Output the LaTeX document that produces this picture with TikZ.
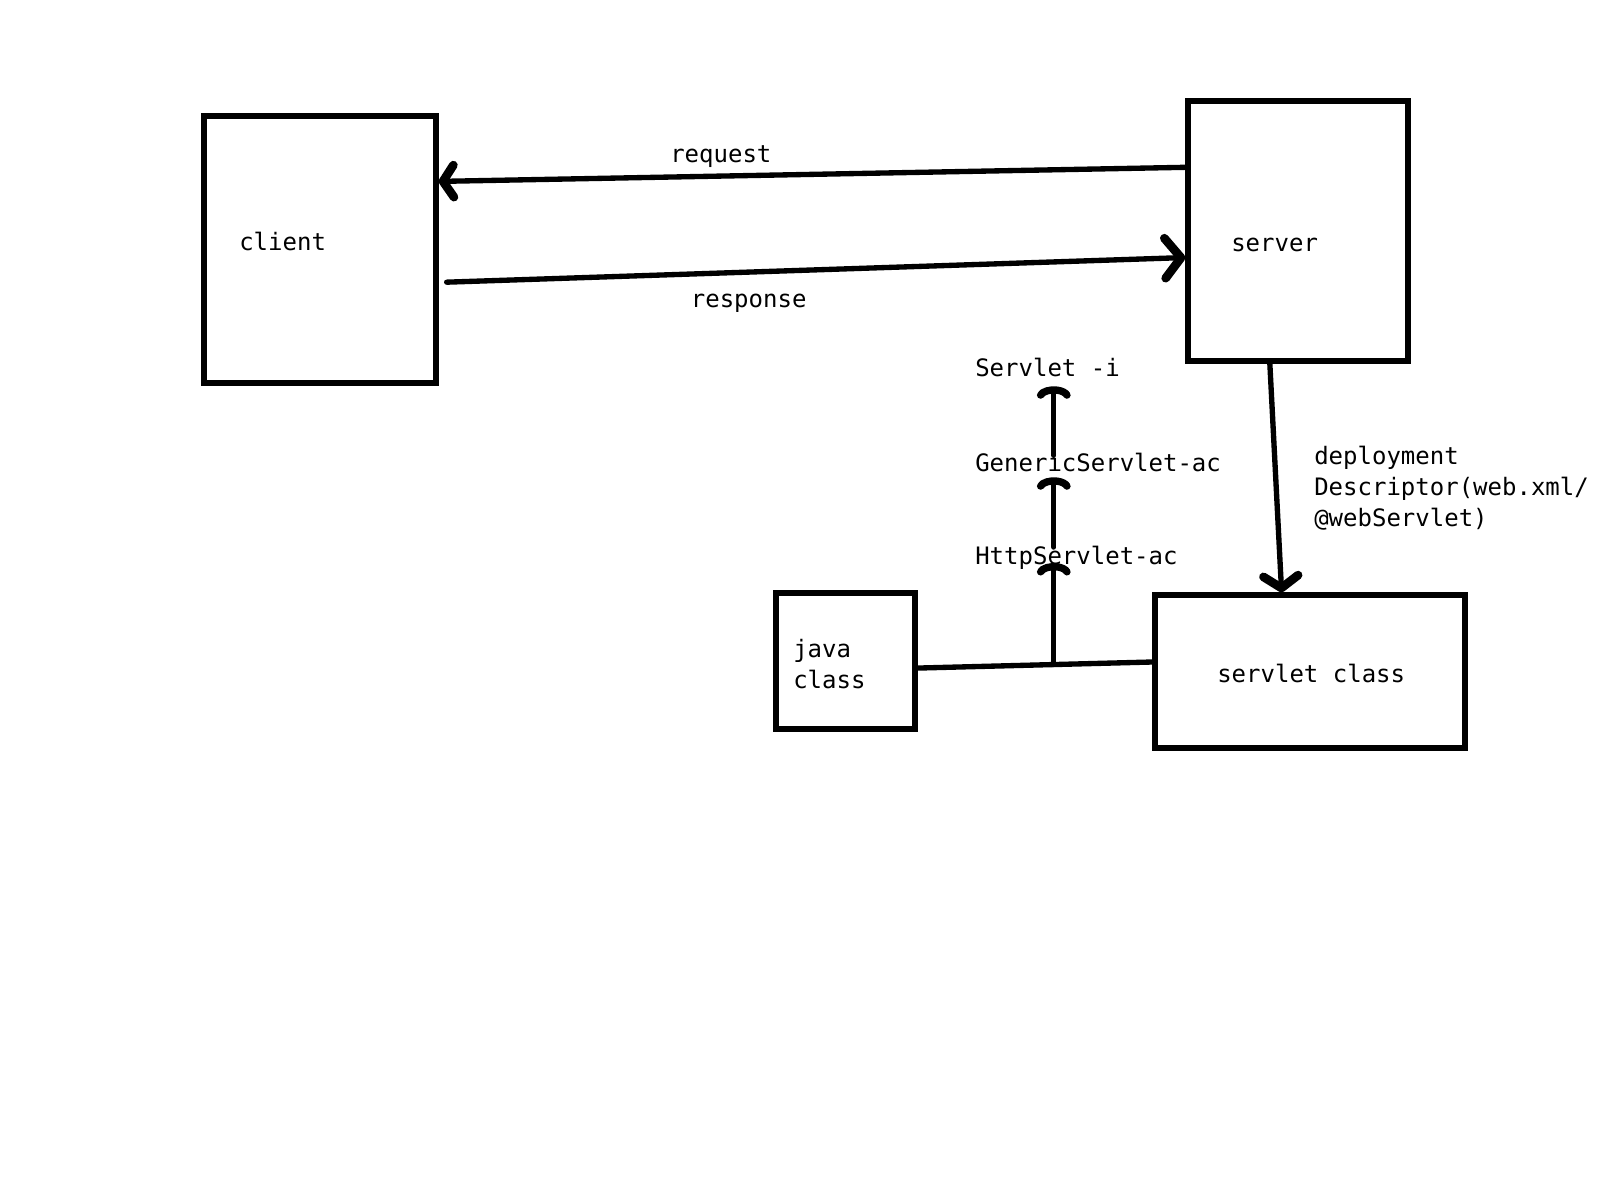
\documentclass[tikz,border=0pt]{standalone}
\usepackage{fontspec}
\setmonofont{DejaVu Sans Mono}
\usetikzlibrary{arrows.meta,calc}
\begin{document}
\begin{tikzpicture}[x=0.75pt,y=-0.75pt,
  box/.style={draw, line width=4pt, inner sep=0pt},
  lbl/.style={font=\ttfamily\fontsize{18}{23.25}\selectfont, inner sep=0pt, anchor=west,
              text height=13.5pt, text depth=4.5pt},
  mlbl/.style={font=\ttfamily\fontsize{18}{23.25}\selectfont, inner sep=0pt, anchor=west, align=left},
  conn/.style={line width=4pt, line cap=round},
  barb/.style 2 args={-{Straight Barb[length=#1, width=#2, line width=6.5pt, line cap=round, line join=round]}},
  archead/.style={-{Arc Barb[arc=150, length=8pt, width=26pt, line width=5.5pt, line cap=round]}}
]
\fill[white] (0,0) rectangle (1621,1177);
\useasboundingbox (0,0) rectangle (1621,1177);

% boxes
\node[box, minimum width=232*0.75pt, minimum height=267*0.75pt] (client)  at (320,249.5) {};
\node[box, minimum width=220*0.75pt, minimum height=260*0.75pt] (server)  at (1298,231) {};
\node[box, minimum width=310*0.75pt, minimum height=153*0.75pt] (servlet) at (1310,671.5) {};
\node[box, minimum width=139*0.75pt, minimum height=136*0.75pt] (java)    at (845.5,661) {};

% labels
\node[lbl] (clientlbl)  at (239,245)  {client};
\node[lbl] (serverlbl)  at (1231,246) {server};
\node[lbl] (request)    at (670,157)  {request};
\node[lbl] (response)   at (690.6,301) {response};
\node[lbl] (servleti)   at (975,370)  {Servlet -i};
\node[lbl] (generic)    at (975,465)  {GenericServlet-ac};
\node[lbl] (http)       at (975,558)  {HttpServlet-ac};
\node[mlbl] (deploy)    at (1314,488) {deployment\\Descriptor(web.xml/\\@webServlet)};
\node[mlbl] (javalbl)   at (793,664)  {java\\class};
\node[lbl] (servletlbl) at (1217,676) {servlet class};

% request / response
\draw[conn, barb={8pt}{24pt}]
  ($(server.north west)!0.26!(server.south west)$) -- ($(client.north east)!0.25!(client.south east)$);
\draw[conn, barb={12pt}{30pt}]
  ([xshift=6pt]$(client.north east)!0.62!(client.south east)$) -- ($(server.north west)!0.60!(server.south west)$);

% deployment
\draw[conn, barb={9pt}{26pt}]
  ($(server.south west)!0.375!(server.south east)$) -- ($(servlet.north west)!0.41!(servlet.north east)$);

% java class -- servlet class
\coordinate (ja) at ($(java.north east)!0.55!(java.south east)$);
\coordinate (sv) at ($(servlet.north west)!0.44!(servlet.south west)$);
\draw[conn] (ja) -- (sv) coordinate[pos=0.58] (j);

% inheritance chain
\draw[conn, archead] (j) -- ([yshift=-3.75pt]j |- http.center);
\draw[conn, archead] ([yshift=-1pt]j |- http.north) -- (j |- generic.south);
\draw[conn, archead] ([yshift=-2pt]j |- generic.north) -- ([yshift=-3pt]j |- servleti.south);
\end{tikzpicture}
\end{document}
